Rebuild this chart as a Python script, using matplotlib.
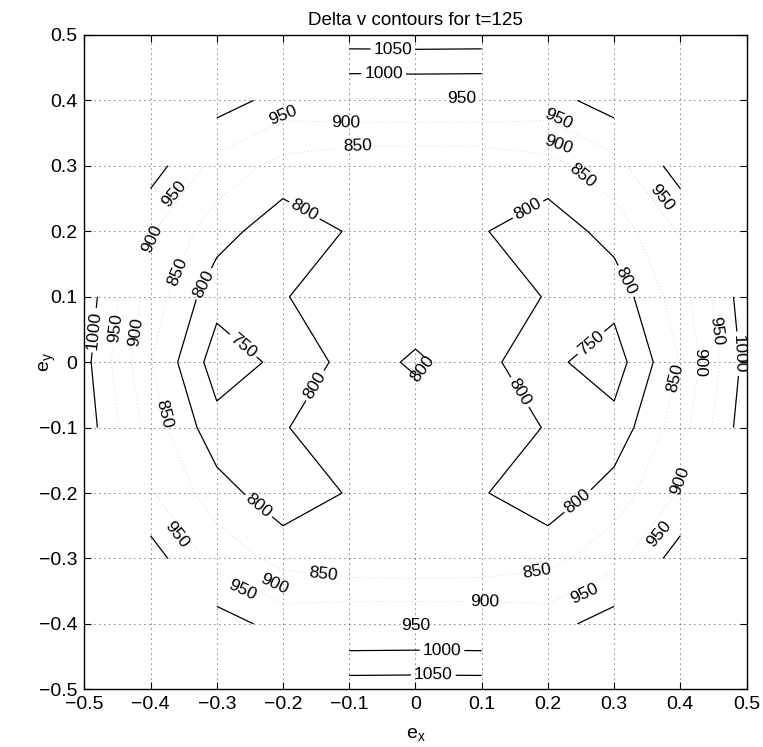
import numpy as np
import matplotlib
matplotlib.use("Agg")
import matplotlib.pyplot as plt

plt.rcParams['font.family'] = ['Liberation Sans', 'DejaVu Sans']

# eccentricity grid
ex = [-0.5, -0.4, -0.3, -0.2, -0.1, 0.0, 0.1, 0.2, 0.3, 0.4, 0.5]
ey = [-0.5, -0.4, -0.3, -0.2, -0.1, 0.0, 0.1, 0.2, 0.3, 0.4, 0.5]

nan = np.nan
# delta v, rows = ey (bottom to top), cols = ex (left to right); nan = outside region
dv = [
    [nan, nan, nan, nan, 1078, 1079, 1078, nan, nan, nan, nan],
    [nan, nan, 975, 930, 946, 947, 946, 930, 975, nan, nan],
    [nan, 974, 882, 833, 810, 808, 810, 833, 882, 974, nan],
    [nan, 905, 822, 767, 804, 810, 804, 767, 822, 905, nan],
    [1030, 878, 767, 797, 827, 820, 827, 797, 767, 878, 1030],
    [1017, 852, 725, 761, 817, 795, 817, 761, 725, 852, 1017],
    [1030, 878, 767, 797, 827, 820, 827, 797, 767, 878, 1030],
    [nan, 905, 822, 767, 804, 810, 804, 767, 822, 905, nan],
    [nan, 974, 882, 833, 810, 808, 810, 833, 882, 974, nan],
    [nan, nan, 975, 930, 946, 947, 946, 930, 975, nan, nan],
    [nan, nan, nan, nan, 1078, 1079, 1078, nan, nan, nan, nan],
]

# label spots
lab750 = [(-0.262, 0.023), (0.268, 0.026)]
lab800 = [(-0.166, 0.235), (0.169, 0.235), (-0.32, 0.12), (0.32, 0.125),
          (-0.148, -0.038), (0.159, -0.045), (0.012, -0.012),
          (-0.238, -0.221), (0.248, -0.216)]
lab1000 = [(-0.048, 0.443), (0.04, -0.448), (-0.488, 0.049), (0.49, 0.013)]
lab1050 = [(-0.034, 0.478), (0.027, -0.481)]
lab850 = [(-0.087, 0.326), (0.25, 0.282), (-0.358, 0.138), (-0.386, -0.081),
          (0.402, -0.027), (-0.139, -0.32), (0.182, -0.313)]
lab900 = [(-0.106, 0.362), (-0.39, 0.186), (-0.422, 0.046),
          (0.438, 0.0), (0.386, -0.175), (0.104, -0.37)]
lab950 = [(0.069, 0.405), (-0.455, 0.052), (0.465, 0.049), (0.0, -0.414)]

# labels that sit beside their line in the picture (placed as free text)
side_val = [950, 950, 950, 950, 950, 950, 950, 950, 900, 900]
side_xy = [(-0.2, 0.377), (0.216, 0.371), (-0.364, 0.257), (0.372, 0.252),
           (-0.361, -0.263), (0.368, -0.262), (-0.262, -0.349), (0.255, -0.354),
           (0.216, 0.333), (-0.213, -0.339)]
side_rot = [22, -25, 50, -52, -52, 50, -25, 25, -20, -25]

X, Y = np.meshgrid(ex, ey)
Z = np.array(dv, dtype=float)
# corner cells where the 950 line shows up dark
Zc = np.where((np.abs(X) >= 0.15) & (np.abs(Y) >= 0.15), Z, nan)

fig = plt.figure(figsize=(7.63, 7.47), dpi=100)
ax = fig.add_axes([0.1105, 0.0772, 0.868, 0.876])

dark = dict(colors='k', linewidths=0.9)
faint = dict(colors='0.78', linewidths=0.6, linestyles=[(0, (1, 3))])

# (level, data, style, label spots)
layers = [
    (850, Z, faint, lab850),
    (900, Z, faint, lab900),
    (950, Z, faint, lab950),
    (750, Z, dark, lab750),
    (800, Z, dark, lab800),
    (1000, Z, dark, lab1000),
    (1050, Z, dark, lab1050),
]

kw = dict(fmt='%d', fontsize=12.5, inline=True, colors='k', inline_spacing=3)
for lev, data, style, spots in layers:
    cs = ax.contour(X, Y, data, levels=[lev], corner_mask=False, **style)
    ax.clabel(cs, manual=spots, **kw)

# short dark 950 pieces in the diagonal corners
ax.contour(X, Y, Zc, levels=[950], corner_mask=False, **dark)
for v, (x, y), r in zip(side_val, side_xy, side_rot):
    ax.text(x, y, '%d' % v, rotation=r, rotation_mode='anchor',
            ha='center', va='center', fontsize=12.5)

ax.set_xlim(-0.5, 0.5)
ax.set_ylim(-0.5, 0.5)
ticks = np.round(np.arange(-0.5, 0.51, 0.1), 1)
tlabels = [('%g' % (t if t != 0 else 0.0)).replace('-', '\u2212') for t in ticks]
ax.set_xticks(ticks)
ax.set_xticklabels(tlabels)
ax.set_yticks(ticks)
ax.set_yticklabels(tlabels)
ax.tick_params(direction='in', top=True, right=True, length=5, width=0.8,
               labelsize=14, pad=5)
ax.grid(True, color='k', linestyle=(0, (1, 5)), linewidth=0.6)
for s in ax.spines.values():
    s.set_linewidth(1.0)

ax.set_title('Delta v contours for t=125', fontsize=13.5, pad=7)
ax.set_xlabel('e$_\\mathregular{x}$', fontsize=14)
ax.set_ylabel('e$_\\mathregular{y}$', fontsize=14)
ax.xaxis.set_label_coords(0.5, -0.057)
ax.yaxis.set_label_coords(-0.039, 0.5)

fig.savefig('out.png', dpi=100)
